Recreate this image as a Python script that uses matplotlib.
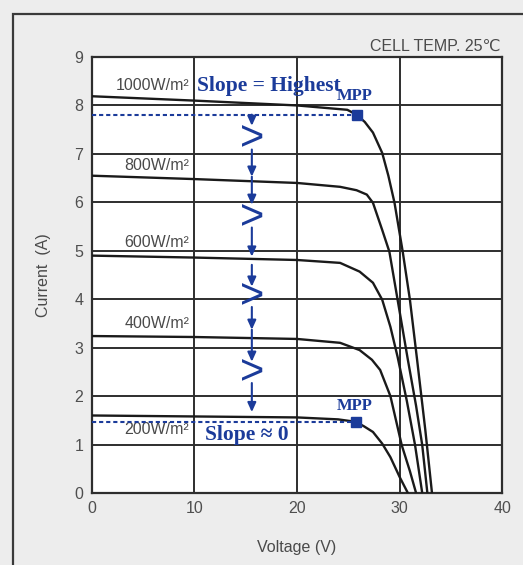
import matplotlib
matplotlib.use("Agg")
import matplotlib.pyplot as plt
from matplotlib.patches import Rectangle

# ---------------- data ----------------
v_1000 = [0, 10, 20, 24.9, 25.8, 26.6, 27.4, 28.3, 28.9, 29.5, 30.3, 31.0, 31.7, 32.5, 33.15]
i_1000 = [8.19, 8.10, 8.00, 7.91, 7.81, 7.66, 7.44, 7.02, 6.55, 5.99, 4.98, 3.99, 2.75, 1.30, 0.0]

v_800 = [0, 10, 20, 24.2, 25.8, 26.8, 27.4, 28.3, 29.0, 29.8, 30.8, 31.6, 32.2, 32.7]
i_800 = [6.55, 6.48, 6.40, 6.32, 6.25, 6.16, 5.99, 5.43, 4.98, 3.99, 2.75, 1.80, 0.99, 0.0]

v_600 = [0, 10, 20, 24.2, 26.1, 27.4, 28.3, 29.1, 29.8, 30.7, 31.5, 32.2]
i_600 = [4.90, 4.86, 4.81, 4.75, 4.57, 4.34, 3.99, 3.43, 2.81, 1.90, 0.99, 0.0]

v_400 = [0, 10, 20, 24.2, 26.1, 27.3, 28.1, 29.1, 30.2, 31.0, 31.6]
i_400 = [3.24, 3.22, 3.18, 3.10, 2.95, 2.75, 2.54, 2.00, 0.99, 0.45, 0.0]

v_200 = [0, 10, 20, 24.0, 25.7, 26.5, 27.4, 28.3, 29.1, 30.0, 30.8]
i_200 = [1.60, 1.58, 1.56, 1.52, 1.47, 1.38, 1.26, 1.02, 0.74, 0.33, 0.0]

curve_v = [v_1000, v_800, v_600, v_400, v_200]
curve_i = [i_1000, i_800, i_600, i_400, i_200]
curve_labels = ["1000W/m²", "800W/m²", "600W/m²", "400W/m²", "200W/m²"]
label_y = [8.41, 6.76, 5.17, 3.49, 1.32]

mpp_v = [25.8, 25.7]
mpp_i = [7.81, 1.47]

arrow_x = 15.6
arrow_start = [7.81, 7.09, 6.53, 5.48, 4.71, 3.84, 3.37, 2.27]
arrow_end = [7.58, 6.53, 5.95, 4.88, 4.26, 3.37, 2.71, 1.67]
chevron_y = [7.31, 5.68, 4.05, 2.48]

x_ticks = [0, 10, 20, 30, 40]
y_ticks = [0, 1, 2, 3, 4, 5, 6, 7, 8, 9]

# ---------------- styling ----------------
BLUE = "#1b3b9a"
GRAY_TXT = "#4a4a4a"
LINE = "#1a1a1a"
GRID = "#2e2e2e"
SANS = ["Liberation Sans", "DejaVu Sans"]
SERIF = ["Liberation Serif", "DejaVu Serif"]

fig = plt.figure(figsize=(5.23, 5.65), dpi=100)
fig.patch.set_facecolor("#ededed")

# outer frame
fig.patches.append(Rectangle((13 / 523, -0.1), 1.2, 0.1 + (1 - 14 / 565),
                             transform=fig.transFigure, fill=False,
                             edgecolor="#3a3a3a", linewidth=1.6, clip_on=False))

ax = fig.add_axes([91.7 / 523, 1 - 493 / 565, 410.6 / 523, 436 / 565])
ax.set_facecolor("white")
ax.set_xlim(0, 40)
ax.set_ylim(0, 9)
ax.set_xticks(x_ticks)
ax.set_yticks(y_ticks)
ax.tick_params(length=0, pad=6, labelsize=11.5, labelcolor="#4f4f4f")
for lab in ax.get_xticklabels() + ax.get_yticklabels():
    lab.set_family(SANS)
ax.grid(True, color=GRID, linewidth=1.4)
ax.set_axisbelow(True)
for s in ax.spines.values():
    s.set_color(GRID)
    s.set_linewidth(1.6)

for v, i in zip(curve_v, curve_i):
    ax.plot(v, i, color=LINE, linewidth=1.7, solid_capstyle="round", zorder=3)

for lab, y in zip(curve_labels, label_y):
    ax.text(9.5, y, lab, ha="right", va="center", fontsize=11.5,
            color=GRAY_TXT, family=SANS, zorder=4)

# dashed lines to MPP
for v, i in zip(mpp_v, mpp_i):
    ax.plot([0, v], [i, i], color=BLUE, linewidth=1.5, linestyle=(0, (2.0, 1.4)), zorder=4)
ax.plot(mpp_v, mpp_i, linestyle="none", marker="s", markersize=7.5,
        color=BLUE, zorder=5)

# arrows
for a, b in zip(arrow_start, arrow_end):
    ax.annotate("", xy=(arrow_x, b), xytext=(arrow_x, a),
                arrowprops=dict(arrowstyle="-|>,head_length=0.55,head_width=0.25",
                                color=BLUE, lw=1.5, shrinkA=0, shrinkB=0,
                                mutation_scale=10), zorder=5)
for y in chevron_y:
    ax.text(arrow_x, y, ">", ha="center", va="center", fontsize=30,
            color=BLUE, family=SANS, zorder=5)

# annotations
ax.text(10.25, 8.41, "Slope = Highest", ha="left", va="center", fontsize=15.5,
        fontweight="bold", color=BLUE, family=SERIF, zorder=6)
ax.text(25.6, 8.19, "MPP", ha="center", va="center", fontsize=12,
        fontweight="bold", color=BLUE, family=SERIF, zorder=6)
ax.text(25.6, 1.79, "MPP", ha="center", va="center", fontsize=12,
        fontweight="bold", color=BLUE, family=SERIF, zorder=6)
ax.text(11.05, 1.2, "Slope ≈ 0", ha="left", va="center", fontsize=15.5,
        fontweight="bold", color=BLUE, family=SERIF, zorder=6)

ax.text(39.8, 9.22, "CELL TEMP. 25℃", ha="right", va="center", fontsize=11.5,
        color=GRAY_TXT, family=SANS, clip_on=False)

ax.set_xlabel("Voltage (V)", fontsize=11.5, color=GRAY_TXT, family=SANS, labelpad=17)
ax.set_ylabel("Current  (A)", fontsize=11.5, color=GRAY_TXT, family=SANS, labelpad=17)

fig.savefig("out.png", dpi=100, facecolor=fig.get_facecolor())
